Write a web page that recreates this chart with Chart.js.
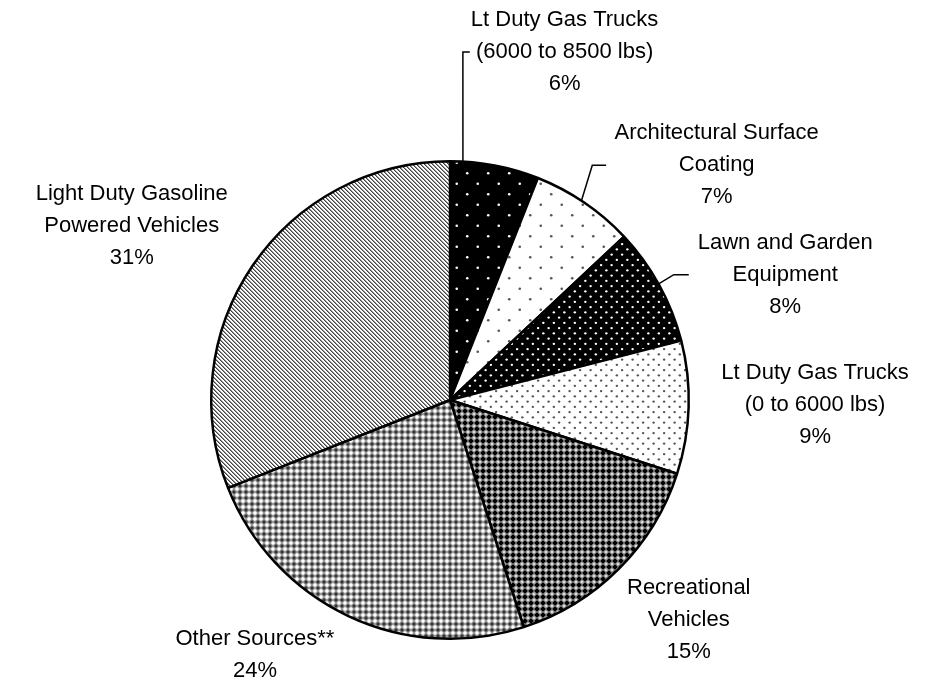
<!DOCTYPE html>
<html>
<head>
<meta charset="utf-8">
<script src="https://cdn.jsdelivr.net/npm/chart.js@4.4.1/dist/chart.umd.min.js"></script>
<style>
  html, body { margin: 0; padding: 0; background: #fff; }
</style>
</head>
<body>
<canvas id="pieChart" width="930" height="690"></canvas>
<script>
// chart data
const sources = [
    ['Lt Duty Gas Trucks', '(6000 to 8500 lbs)'],
    ['Architectural Surface', 'Coating'],
    ['Lawn and Garden', 'Equipment'],
    ['Lt Duty Gas Trucks', '(0 to 6000 lbs)'],
    ['Recreational', 'Vehicles'],
    ['Other Sources**'],
    ['Light Duty Gasoline', 'Powered Vehicles']
];
const shares = [6, 7, 8, 9, 15, 24, 31];

const ctx = document.getElementById('pieChart').getContext('2d');

// fill patterns (black & white print style)
function dotTile(bg, fg, r, spots) {
    const c = document.createElement('canvas');
    c.width = c.height = 21;
    const g = c.getContext('2d');
    g.fillStyle = bg;
    g.fillRect(0, 0, 21, 21);
    g.fillStyle = fg;
    spots.forEach(([x, y]) => {
        [-21, 0, 21].forEach(ox => [-21, 0, 21].forEach(oy => {
            g.beginPath();
            g.arc(x + ox, y + oy, r, 0, Math.PI * 2);
            g.fill();
        }));
    });
    return ctx.createPattern(c, 'repeat');
}
function pixTile(w, h, fn) {
    const c = document.createElement('canvas');
    c.width = w; c.height = h;
    const g = c.getContext('2d');
    const img = g.createImageData(w, h);
    for (let y = 0; y < h; y++) {
        for (let x = 0; x < w; x++) {
            const v = fn(x, y), i = (y * w + x) * 4;
            img.data[i] = img.data[i + 1] = img.data[i + 2] = v;
            img.data[i + 3] = 255;
        }
    }
    g.putImageData(img, 0, 0);
    return ctx.createPattern(c, 'repeat');
}

const sparse = [[5.25, 5.25], [15.75, 15.75]];
const dense = [];
for (let j = 0; j < 4; j++) {
    for (let i = 0; i < 2; i++) {
        dense.push([2.6 + (j % 2) * 5.25 + i * 10.5, 2.6 + j * 5.25]);
    }
}
const manh = (x, y) => Math.abs(x - 2.5) + Math.abs(y - 2.5);

const fills = [
    dotTile('#000', '#fff', 1.3, sparse),
    dotTile('#fff', '#555', 1.3, sparse),
    dotTile('#000', '#fff', 1.2, dense),
    dotTile('#fff', '#555', 1.2, dense),
    pixTile(6, 6, (x, y) => [0, 0, 0, 102, 153, 221][manh(x, y)]),
    pixTile(6, 6, (x, y) => [255, 255, 221, 153, 102, 51][manh(x, y)]),
    pixTile(4, 4, (x, y) => {
        const k = ((x - y) % 4 + 4) % 4;
        return k === 0 ? 64 : (k === 1 ? 150 : 255);
    })
];

// label placement, in units of the pie radius from its centre
const labelSpots = [[0.48, -1.458], [1.117, -0.983], [1.404, -0.525], [1.529, 0.021],
                    [1.0, 0.921], [-0.817, 1.067], [-1.333, -0.729]];
const leaders = {
    0: { deg: 3.1, pts: [[0.054, -1.458], [0.083, -1.458]] },
    1: { deg: 33.4, pts: [[0.596, -0.983], [0.654, -0.983]] },
    2: { deg: 60.9, pts: [[0.9375, -0.525], [1.0, -0.525]] }
};

const pieLabels = {
    id: 'pieLabels',
    afterDraw(chart) {
        const arc = chart.getDatasetMeta(0).data[0];
        const cx = arc.x, cy = arc.y, r = arc.outerRadius;
        const g = chart.ctx;
        g.save();
        g.strokeStyle = '#000';
        g.lineWidth = 1.5;
        Object.keys(leaders).forEach(k => {
            const ld = leaders[k];
            const a = ld.deg * Math.PI / 180;
            g.beginPath();
            g.moveTo(cx + r * Math.sin(a), cy - r * Math.cos(a));
            ld.pts.forEach(([px, py]) => g.lineTo(cx + px * r, cy + py * r));
            g.stroke();
        });
        g.fillStyle = '#000';
        g.font = '22px "Liberation Sans", Arial, sans-serif';
        g.textAlign = 'center';
        g.textBaseline = 'middle';
        sources.forEach((name, i) => {
            const lines = name.concat([shares[i] + '%']);
            const x = cx + labelSpots[i][0] * r;
            const y = cy + labelSpots[i][1] * r;
            lines.forEach((t, j) => g.fillText(t, x, y + (j - (lines.length - 1) / 2) * 32));
        });
        g.restore();
    }
};

const pieChart = new Chart(ctx, {
    type: 'pie',
    data: {
        labels: sources.map(s => s.join(' ')),
        datasets: [{
            data: shares,
            backgroundColor: fills,
            borderColor: '#000',
            borderWidth: 2.5
        }]
    },
    options: {
        responsive: false,
        animation: false,
        layout: {
            padding: { left: 210, right: 240, top: 160, bottom: 50 }
        },
        plugins: {
            legend: { display: false },
            tooltip: { enabled: false }
        }
    },
    plugins: [pieLabels]
});
</script>
</body>
</html>
